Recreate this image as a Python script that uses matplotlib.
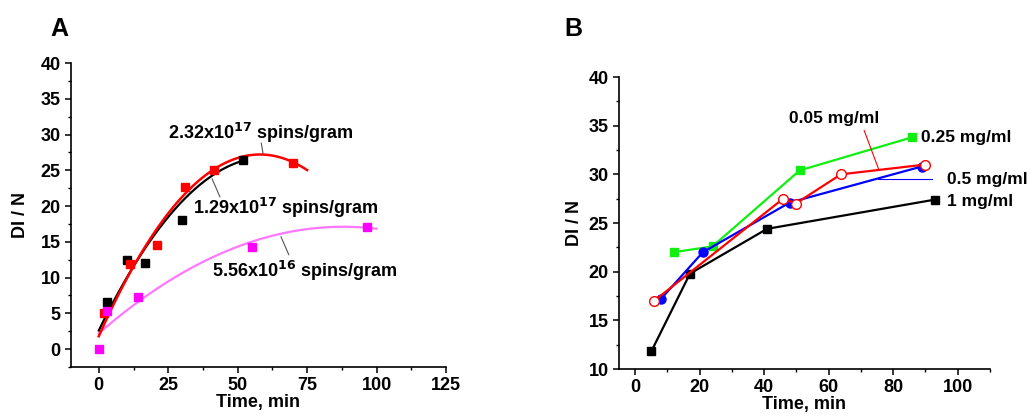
import matplotlib

matplotlib.use("Agg")

import matplotlib.pyplot as plt
import numpy as np
from matplotlib.ticker import MultipleLocator

plt.rcParams["font.family"] = ["Liberation Sans", "DejaVu Sans"]
plt.rcParams["font.weight"] = "bold"

# Panel A: DI/N vs time for three spin concentrations
a_black_t = [3.0, 10.0, 16.8, 30.0, 51.9]
a_black_y = [6.6, 12.4, 12.0, 18.0, 26.4]
a_red_t = [1.9, 11.2, 21.1, 31.1, 41.3, 69.9]
a_red_y = [5.1, 11.9, 14.5, 22.7, 25.0, 26.0]
a_mag_t = [0.0, 2.8, 14.2, 55.0, 96.7]
a_mag_y = [0.0, 5.3, 7.3, 14.3, 17.1]

# quadratic fit curves (coefficients: c0 + c1*t + c2*t^2)
fit_red = [1.8, 0.876, -0.00755]
fit_black = [2.6, 0.80, -0.0066]
fit_mag = [2.2, 0.3387, -0.001924]
fit_red_range = (0, 75)
fit_black_range = (0, 52)
fit_mag_range = (0, 100)

# Panel B: DI/N vs time for four concentrations
b_1_t = [5.0, 17.0, 40.9, 92.9]
b_1_y = [11.8, 19.8, 24.4, 27.4]
b_025_t = [12.0, 24.0, 51.0, 85.8]
b_025_y = [22.0, 22.6, 30.4, 33.8]
b_05_t = [8.0, 21.0, 47.9, 88.8]
b_05_y = [17.2, 22.0, 27.1, 30.8]
b_005_t = [5.9, 45.9, 49.8, 63.8, 89.8]
b_005_y = [17.0, 27.5, 27.0, 30.0, 31.0]


def _style(ax, xlim, ylim, xmaj, ymaj, ylabelpad):
    ax.set_xlim(*xlim)
    ax.set_ylim(*ylim)
    ax.spines["top"].set_visible(False)
    ax.spines["right"].set_visible(False)
    for s in ("left", "bottom"):
        ax.spines[s].set_linewidth(1.2)
    ax.xaxis.set_major_locator(MultipleLocator(xmaj))
    ax.xaxis.set_minor_locator(MultipleLocator(xmaj / 2))
    ax.yaxis.set_major_locator(MultipleLocator(ymaj))
    ax.yaxis.set_minor_locator(MultipleLocator(ymaj / 2))
    ax.tick_params(which="major", direction="out", length=4, width=1.1, labelsize=13)
    ax.tick_params(which="minor", direction="out", length=2.5, width=1.0)
    for lab in ax.get_xticklabels() + ax.get_yticklabels():
        lab.set_fontweight("bold")
    ax.set_xlabel("Time, min", fontsize=13, fontweight="bold", labelpad=0)
    ax.set_ylabel("DI / N", fontsize=13, fontweight="bold", labelpad=ylabelpad)


def _curve(coef, rng):
    t = np.linspace(rng[0], rng[1], 200)
    return t, coef[0] + coef[1] * t + coef[2] * t ** 2


fig = plt.figure(figsize=(10.3, 4.17), dpi=100)
ax1 = fig.add_axes([71 / 1030, 1 - 367 / 417, 375 / 1030, 304 / 417])
ax2 = fig.add_axes([619 / 1030, 1 - 369 / 417, 371 / 1030, 292 / 417])

# Panel A
t, y = _curve(fit_mag, fit_mag_range)
ax1.plot(t, y, color="#ff77ff", lw=1.6)
t, y = _curve(fit_black, fit_black_range)
ax1.plot(t, y, color="black", lw=1.6)
t, y = _curve(fit_red, fit_red_range)
ax1.plot(t, y, color="#ff0000", lw=1.8)
ax1.plot(a_black_t, a_black_y, "s", color="black", ms=6)
ax1.plot(a_red_t, a_red_y, "s", color="#ff0000", ms=6)
ax1.plot(a_mag_t, a_mag_y, "s", color="#ff00ff", ms=6)

ann = dict(fontsize=13, fontweight="bold", va="center", ha="left")
ax1.text(24.9, 30.2, r"2.32x10$^{\mathbf{17}}$ spins/gram", **ann)
ax1.text(34.0, 19.8, r"1.29x10$^{\mathbf{17}}$ spins/gram", **ann)
ax1.text(40.7, 10.9, r"5.56x10$^{\mathbf{16}}$ spins/gram", **ann)
ax1.plot([58.5, 59.2], [28.8, 27.2], color="#555555", lw=0.8)
ax1.plot([40.8, 43.6], [23.8, 21.3], color="#555555", lw=0.8)
ax1.plot([65.6, 68.4], [15.7, 13.2], color="#555555", lw=0.8)

_style(ax1, (-10, 125), (-2.5, 40), 25, 5, 8)
ax1.text(-0.056, 1.09, "A", transform=ax1.transAxes, fontsize=18, fontweight="bold")

# Panel B
ax2.plot(b_1_t, b_1_y, "s-", color="black", lw=1.6, ms=6)
ax2.plot(b_025_t, b_025_y, "s-", color="#11ee11", lw=1.6, ms=6)
ax2.plot(b_05_t, b_05_y, "o-", color="#0000ff", lw=1.6, ms=6.5)
ax2.plot(b_005_t, b_005_y, "o-", color="#ff0000", lw=1.6, ms=7,
         mfc="white", mec="#ff0000")

ann_b = dict(fontsize=12.5, fontweight="bold", va="center", ha="left")
ax2.text(47.7, 35.7, "0.05 mg/ml", **ann_b)
ax2.text(88.7, 33.8, "0.25 mg/ml", **ann_b)
ax2.text(96.8, 29.5, "0.5 mg/ml", **ann_b)
ax2.text(96.6, 27.2, "1 mg/ml", **ann_b)
ax2.plot([71.0, 75.4], [34.5, 30.6], color="#ff0000", lw=0.8)
ax2.plot([75.4, 91.9], [29.5, 29.5], color="#0000ff", lw=0.8)

_style(ax2, (-5, 110), (10, 40), 20, 5, 4)
ax2.text(-0.146, 1.14, "B", transform=ax2.transAxes, fontsize=18, fontweight="bold")

fig.savefig("out.png", dpi=100)
plt.close(fig)
